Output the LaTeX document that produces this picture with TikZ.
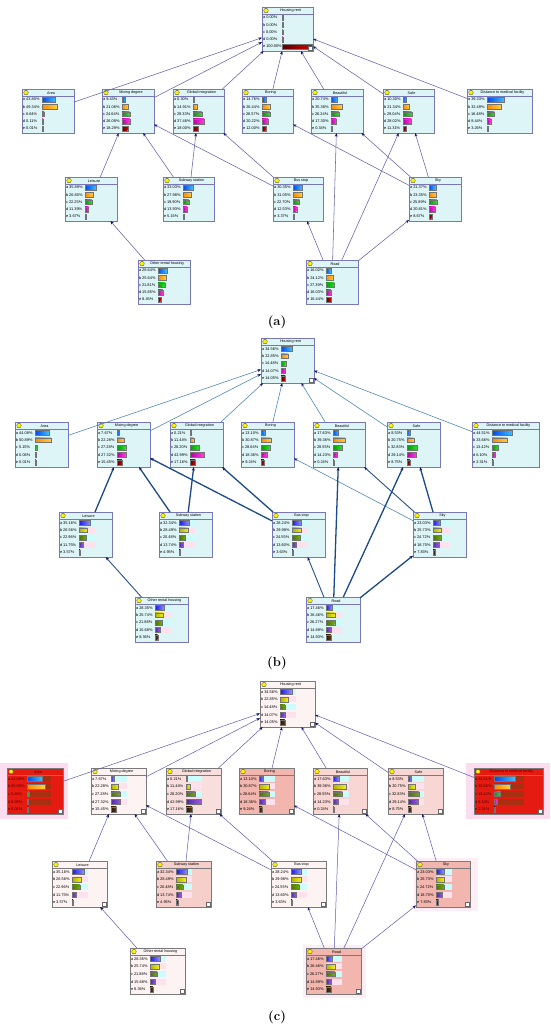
\documentclass[tikz,border=0pt]{standalone}
\usepackage{fontspec}
\usetikzlibrary{arrows.meta}
\newfontfamily\nf{Liberation Sans}
% palette A
\definecolor{AL1}{HTML}{0048F0}\definecolor{AR1}{HTML}{40C0FF}
\definecolor{AL2}{HTML}{FF8800}\definecolor{AR2}{HTML}{FFD040}
\definecolor{AL3}{HTML}{009A00}\definecolor{AR3}{HTML}{30E030}
\definecolor{AL4}{HTML}{B800A8}\definecolor{AR4}{HTML}{FF40E0}
\definecolor{AL5}{HTML}{5A0000}\definecolor{AR5}{HTML}{D80000}
% palette B
\definecolor{BL1}{HTML}{1818F0}\definecolor{BR1}{HTML}{9090FF}
\definecolor{BL2}{HTML}{B0B000}\definecolor{BR2}{HTML}{F0F020}
\definecolor{BL3}{HTML}{487400}\definecolor{BR3}{HTML}{78A818}
\definecolor{BL4}{HTML}{5028A8}\definecolor{BR4}{HTML}{9A5AE0}
\definecolor{BL5}{HTML}{2A1500}\definecolor{BR5}{HTML}{5C3C18}
\definecolor{nodecyan}{HTML}{DEF5F8}
\definecolor{bdrblue}{HTML}{7878B8}
\definecolor{bdrgray}{HTML}{7A7A7A}
\definecolor{halocyan}{HTML}{CCFCFC}
\definecolor{halopink}{HTML}{FDE2EE}
\definecolor{halored}{HTML}{A83010}
\definecolor{nodered}{HTML}{E51A10}
\definecolor{outerpink}{HTML}{FCDDF0}
\definecolor{softpink}{HTML}{FDEEF6}
\definecolor{tipnavy}{HTML}{101068}
\definecolor{cA}{HTML}{FDF3F3}
\definecolor{cB}{HTML}{F9DEDE}
\definecolor{cC}{HTML}{F3B6AE}
\definecolor{cD}{HTML}{F8D6D3}
\definecolor{cE}{HTML}{F6CFCB}
\def\tfont{\nf\fontsize{3.7}{4}\selectfont}
\def\lfont{\nf\fontsize{3.9}{4}\selectfont}
\def\NH{44}\def\bdr{bdrblue}\def\pal{A}\def\halo{0}\def\icon{0}
\def\hA{halocyan}\def\hB{halopink}\def\tc{black}\def\hw{16}
\newcommand\bn[8][]{%
 \begingroup #1%
 \node[draw=\bdr, fill=#7, line width=0.45pt, anchor=north west, minimum width=#5pt, minimum height=\NH pt, inner sep=0pt, outer sep=0pt] (#2) at (#3,#4) {};
 \draw[draw=\bdr, line width=0.35pt] (#3,#4+7) -- ++(#5,0);
 \filldraw[fill=yellow, draw=black!75, line width=0.3pt] (#3+4,#4+3.6) circle[radius=2.3];
 \node[font=\tfont, text=\tc, inner sep=0pt] at (#3+#5/2+3,#4+3.8) {#6};
 \foreach \v [count=\i] in {#8} {%
   \pgfmathsetmacro\ry{#4+7+(\i-0.5)*(\NH-8)/5}%
   \pgfmathsetmacro\bl{max(\v/100*(#5-21),0.7)}%
   \ifodd\i\def\hc{\hA}\else\def\hc{\hB}\fi
   \ifnum\halo=1 \ifnum\i<5 \fill[fill=\hc] (#3+20,\ry-3) rectangle ++(\hw,6);\fi\fi
   \shade[left color=\pal L\i, right color=\pal R\i] (#3+20,\ry-2.4) rectangle ++(\bl,4.8);
   \draw[black!55, line width=0.2pt] (#3+20,\ry-2.4) rectangle ++(\bl,4.8);
   \node[font=\lfont, text=\tc, anchor=west, inner sep=0pt] at (#3+0.8,\ry) {\ifcase\i\or a\or b\or c\or d\or e\fi\ \v\%};
 }%
 \ifnum\icon=1 \draw[black!60, fill=white, line width=0.25pt] (#3+#5-4.5,#4+\NH-4.5) rectangle ++(3.5,3.5);\fi
 \endgroup}
\newcommand\edges[1]{%
 \draw[ethin] (#1Area) -- (#1HR);
 \draw[ethin] (#1Mix) -- (#1HR);
 \draw[ethin] (#1Glob) -- (#1HR);
 \draw[ethin] (#1Bor) -- (#1HR);
 \draw[ethin] (#1Bea) -- (#1HR);
 \draw[ethin] (#1Safe) -- (#1HR);
 \draw[ethin] (#1Dist) -- (#1HR);
 \draw[ethick] (#1Lei) -- (#1Mix);
 \draw[ethick] (#1Sub) -- (#1Mix);
 \draw[ethick] (#1Sub) -- (#1Glob);
 \draw[ethick] (#1Bus) -- (#1Mix);
 \draw[ethick] (#1Bus) -- (#1Glob);
 \draw[ethin] (#1Sky) -- (#1Bor);
 \draw[emed] (#1Sky) -- (#1Bea);
 \draw[ethick] (#1Sky) -- (#1Safe);
 \draw[ethick] (#1Road) -- (#1Bea);
 \draw[ethick] (#1Road) -- (#1Safe);
 \draw[emed] (#1Road) -- (#1Bus);
 \draw[ethick] (#1Road) -- (#1Sky);
 \draw[emed] (#1Oth) -- (#1Lei);}
\begin{document}
\begin{tikzpicture}[x=1pt,y=-1pt,
  tipA/.style={-{Stealth[length=3.6pt,width=2.8pt,color=tipnavy]}},
  caption/.style={font=\fontsize{13}{15}\selectfont\bfseries}]
\useasboundingbox (0,0) rectangle (550,1029);
\fill[white] (0,0) rectangle (550,1029);
% ================= panel (a)
\begin{scope}[ethin/.style={tipA, draw={rgb,255:red,100;green,100;blue,170}, line width=0.55pt},
  emed/.style={ethin}, ethick/.style={ethin}]
\def\NH{44}
\bn[\def\icon{1}]{aHR}{262}{7}{51}{Housing rent}{nodecyan}{0.00,0.00,0.00,0.00,100.00}
\bn{aArea}{22}{89}{52}{Area}{nodecyan}{43.80,49.34,6.64,0.11,0.01}
\bn{aMix}{102}{89}{52}{Mixing degree}{nodecyan}{9.43,21.06,24.64,26.08,18.29}
\bn{aGlob}{173}{89}{51}{Global integration}{nodecyan}{0.30,14.91,29.33,37.46,18.00}
\bn{aBor}{242}{89}{51}{Boring}{nodecyan}{14.76,26.44,26.57,20.22,12.00}
\bn{aBea}{311}{89}{52}{Beautiful}{nodecyan}{20.74,35.38,26.24,17.30,0.34}
\bn{aSafe}{383}{89}{51}{Safe}{nodecyan}{10.30,21.34,29.04,28.02,11.31}
\bn{aDist}{467}{89}{65}{Distance to medical facility}{nodecyan}{39.33,32.49,16.48,8.44,3.26}
\bn{aLei}{65}{177}{52}{Leisure}{nodecyan}{35.89,26.80,22.25,11.39,3.67}
\bn{aSub}{163}{177}{51}{Subway station}{nodecyan}{33.03,27.98,19.90,13.93,5.15}
\bn{aBus}{273}{177}{50}{Bus stop}{nodecyan}{30.35,31.05,22.70,12.53,3.37}
\bn{aSky}{409}{177}{52}{Sky}{nodecyan}{21.37,23.35,25.89,20.81,8.67}
\bn{aOth}{138}{260}{52}{Other rental housing}{nodecyan}{28.64,25.64,21.81,15.65,8.45}
\bn{aRoad}{306}{260}{52}{Road}{nodecyan}{16.02,24.12,27.39,16.03,16.44}
\edges{a}
\node[caption] (capA) at (277,322) {(a)};
\end{scope}
% ================= panel (b)
\begin{scope}[ethin/.style={tipA, draw={rgb,255:red,70;green,130;blue,176}, line width=0.55pt},
  emed/.style={tipA, draw={rgb,255:red,40;green,80;blue,140}, line width=0.9pt},
  ethick/.style={tipA, draw={rgb,255:red,26;green,74;blue,136}, line width=1.3pt}]
\def\NH{45}
\bn[\def\icon{1}]{bHR}{261}{338}{53}{Housing rent}{nodecyan}{34.56,22.85,14.48,14.07,14.05}
\bn{bArea}{15}{422}{53}{Area}{nodecyan}{44.08,50.89,5.15,0.06,0.01}
\bn{bMix}{97}{422}{53}{Mixing degree}{nodecyan}{7.67,22.28,27.28,27.32,15.45}
\bn{bGlob}{170}{422}{53}{Global integration}{nodecyan}{0.21,11.44,28.20,42.99,17.16}
\bn{bBor}{241}{422}{53}{Boring}{nodecyan}{13.10,30.87,28.64,18.36,9.24}
\bn{bBea}{313}{422}{52}{Beautiful}{nodecyan}{17.63,39.36,28.55,14.23,0.24}
\bn{bSafe}{387}{422}{53}{Safe}{nodecyan}{8.53,20.75,32.83,29.14,8.75}
\bn{bDist}{472}{422}{67}{Distance to medical facility}{nodecyan}{44.51,33.66,13.42,6.10,2.31}
\def\pal{B}\def\halo{1}
\bn{bLei}{59}{512}{53}{Leisure}{nodecyan}{35.16,26.56,22.96,11.75,3.57}
\bn{bSub}{159}{512}{53}{Subway station}{nodecyan}{32.34,28.49,20.48,13.74,4.95}
\bn{bBus}{272}{512}{53}{Bus stop}{nodecyan}{28.24,29.98,24.55,13.60,3.63}
\bn{bSky}{413}{512}{53}{Sky}{nodecyan}{23.03,25.73,24.72,18.70,7.83}
\bn{bOth}{135}{597}{53}{Other rental housing}{nodecyan}{28.35,25.74,21.88,15.68,8.36}
\bn{bRoad}{306}{597}{54}{Road}{nodecyan}{17.46,26.46,26.27,14.89,14.93}
\edges{b}
\node[caption] (capB) at (277,663) {(b)};
\end{scope}
% ================= panel (c)
\begin{scope}[ethin/.style={tipA, draw={rgb,255:red,92;green,92;blue,176}, line width=0.5pt},
  emed/.style={ethin}, ethick/.style={ethin}]
\def\NH{46}\def\pal{B}\def\halo{1}\def\icon{1}\def\bdr{bdrgray}
\fill[outerpink] (0,763) rectangle (68,819);
\fill[outerpink] (466,763) rectangle (550,819);
\fill[softpink] (414,858) rectangle (478,911);
\fill[softpink] (303,945) rectangle (366,998);
\bn{cHR}{260}{681}{55}{Housing rent}{cA}{34.56,22.85,14.48,14.07,14.05}
\bn[\def\pal{A}\def\hA{halored}\def\hB{halored}\def\tc{red!35!black}\def\hw{24}]{cArea}{7}{768}{56}{Area}{nodered}{44.08,50.89,5.15,0.06,0.01}
\bn{cMix}{91}{768}{55}{Mixing degree}{cA}{7.67,22.28,27.28,27.32,15.45}
\bn{cGlob}{166}{768}{55}{Global integration}{cB}{0.21,11.44,28.20,42.99,17.16}
\bn{cBor}{239}{768}{55}{Boring}{cC}{13.10,30.87,28.64,18.36,9.24}
\bn{cBea}{313}{768}{54}{Beautiful}{cD}{17.63,39.36,28.55,14.23,0.24}
\bn{cSafe}{388}{768}{55}{Safe}{cD}{8.53,20.75,32.83,29.14,8.75}
\bn[\def\pal{A}\def\hA{halored}\def\hB{halored}\def\tc{red!35!black}\def\hw{30}]{cDist}{474}{768}{69}{Distance to medical facility}{nodered}{44.51,33.66,13.42,6.10,2.31}
\bn{cLei}{52}{861}{55}{Leisure}{cA}{35.16,26.56,22.96,11.75,3.57}
\bn{cSub}{156}{861}{55}{Subway station}{cE}{32.34,28.49,20.48,13.74,4.95}
\bn{cBus}{271}{861}{55}{Bus stop}{cA}{28.24,29.98,24.55,13.60,3.63}
\bn{cSky}{416}{861}{54}{Sky}{cC}{23.03,25.73,24.72,18.70,7.83}
\bn{cOth}{130}{948}{55}{Other rental housing}{cA}{28.35,25.74,21.88,15.68,8.36}
\bn{cRoad}{306}{948}{55}{Road}{cC}{17.46,26.46,26.27,14.89,14.93}
\edges{c}
\node[caption] (capC) at (277,1017) {(c)};
\end{scope}
\end{tikzpicture}
\end{document}
